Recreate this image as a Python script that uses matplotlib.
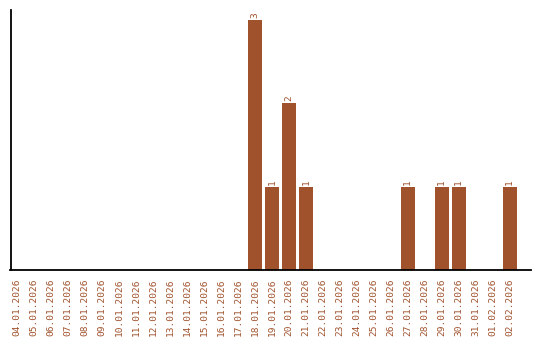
import matplotlib
matplotlib.use("Agg")
import matplotlib.pyplot as plt

dates = ["04.01.2026", "05.01.2026", "06.01.2026", "07.01.2026", "08.01.2026",
         "09.01.2026", "10.01.2026", "11.01.2026", "12.01.2026", "13.01.2026",
         "14.01.2026", "15.01.2026", "16.01.2026", "17.01.2026", "18.01.2026",
         "19.01.2026", "20.01.2026", "21.01.2026", "22.01.2026", "23.01.2026",
         "24.01.2026", "25.01.2026", "26.01.2026", "27.01.2026", "28.01.2026",
         "29.01.2026", "30.01.2026", "31.01.2026", "01.02.2026", "02.02.2026"]
counts = [0, 0, 0, 0, 0, 0, 0, 0, 0, 0,
          0, 0, 0, 0, 3, 1, 2, 1, 0, 0,
          0, 0, 0, 1, 0, 1, 1, 0, 0, 1]

color = "#A0522D"
plt.rcParams['font.family'] = ['DejaVu Sans Mono']

fig = plt.figure(figsize=(5.4, 3.4), dpi=100)
ax = fig.add_axes([10.5/540, 70/340, (531-10.5)/540, 260/340])
x = list(range(len(dates)))
ax.bar(x, counts, width=0.82, color=color)
for xi, c in zip(x, counts):
    if c > 0:
        ax.annotate(str(c), (xi, c), xytext=(0, 1.5), textcoords='offset points',
                    rotation=90, ha='center', va='bottom',
                    fontsize=6.8, color=color)
ax.set_xlim(-0.38, len(dates) - 1 + 1.25)
ax.set_ylim(0, 3.12)
ax.set_xticks(x)
ax.set_xticklabels(dates, rotation=90, fontsize=6.8, color=color)
ax.tick_params(axis='x', length=0, pad=6)
ax.set_yticks([])
ax.spines['top'].set_visible(False)
ax.spines['right'].set_visible(False)
ax.spines['left'].set_linewidth(1.3)
ax.spines['bottom'].set_linewidth(1.3)
fig.savefig("out.png", dpi=100)
